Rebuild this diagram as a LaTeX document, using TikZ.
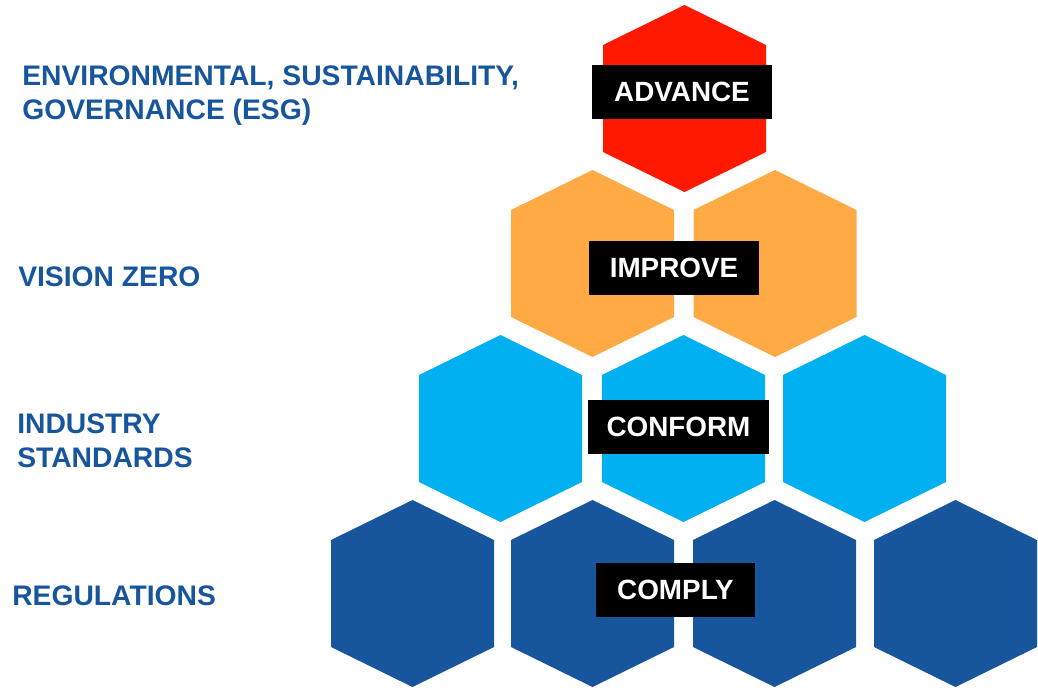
\documentclass[tikz,border=0pt]{standalone}
\usepackage{fontspec}
\setmainfont{Liberation Sans}
\usepackage{tikz}

\definecolor{advred}{RGB}{255,25,0}
\definecolor{imporange}{RGB}{255,170,68}
\definecolor{confblue}{RGB}{0,176,240}
\definecolor{compblue}{RGB}{23,86,156}

\tikzset{
  level/.style={anchor=north west,inner sep=0pt,align=left,text=compblue,
    font=\fontsize{20.1}{24.2}\selectfont\bfseries},
  tag/.style={fill=black,text=white,inner sep=0pt,minimum height=38.4pt,
    font=\fontsize{19.8}{23.5}\selectfont\bfseries}
}

\begin{document}
\begin{tikzpicture}[x=0.025cm,y=-0.025cm]
      \useasboundingbox (0,0) rectangle (1038,691);

      % honeycomb, bottom row first
      \foreach \cx/\cy/\col in {412.5/593.5/compblue, 592.5/593.5/compblue,
          774.5/593.5/compblue, 955.5/593.5/compblue,
          500.5/428.5/confblue, 683.5/428.5/confblue, 864.5/428.5/confblue,
          592.5/263.5/imporange, 775/263.5/imporange,
          684.5/98.5/advred}
        \fill[\col] (\cx,\cy) ++(0,-93.5) -- ++(81.5,40) -- ++(0,107)
          -- ++(-81.5,40) -- ++(-81.5,-40) -- ++(0,-107) -- cycle;

      \node[tag,minimum width=128pt]   (advance) at (682,91.5)  {ADVANCE};
      \node[tag,minimum width=121pt]   (improve) at (674,268)   {IMPROVE};
      \node[tag,minimum width=128.7pt] (conform) at (678.5,427) {CONFORM};
      \node[tag,minimum width=113pt]   (comply)  at (675.5,590) {COMPLY};

      \node[level] (esg)         at (22,65)  {ENVIRONMENTAL, SUSTAINABILITY,\\GOVERNANCE (ESG)};
      \node[level] (vision)      at (18,266) {VISION ZERO};
      \node[level] (standards)   at (17,413) {INDUSTRY\\STANDARDS};
      \node[level] (regulations) at (12,585) {REGULATIONS};
    \end{tikzpicture}
\end{document}
